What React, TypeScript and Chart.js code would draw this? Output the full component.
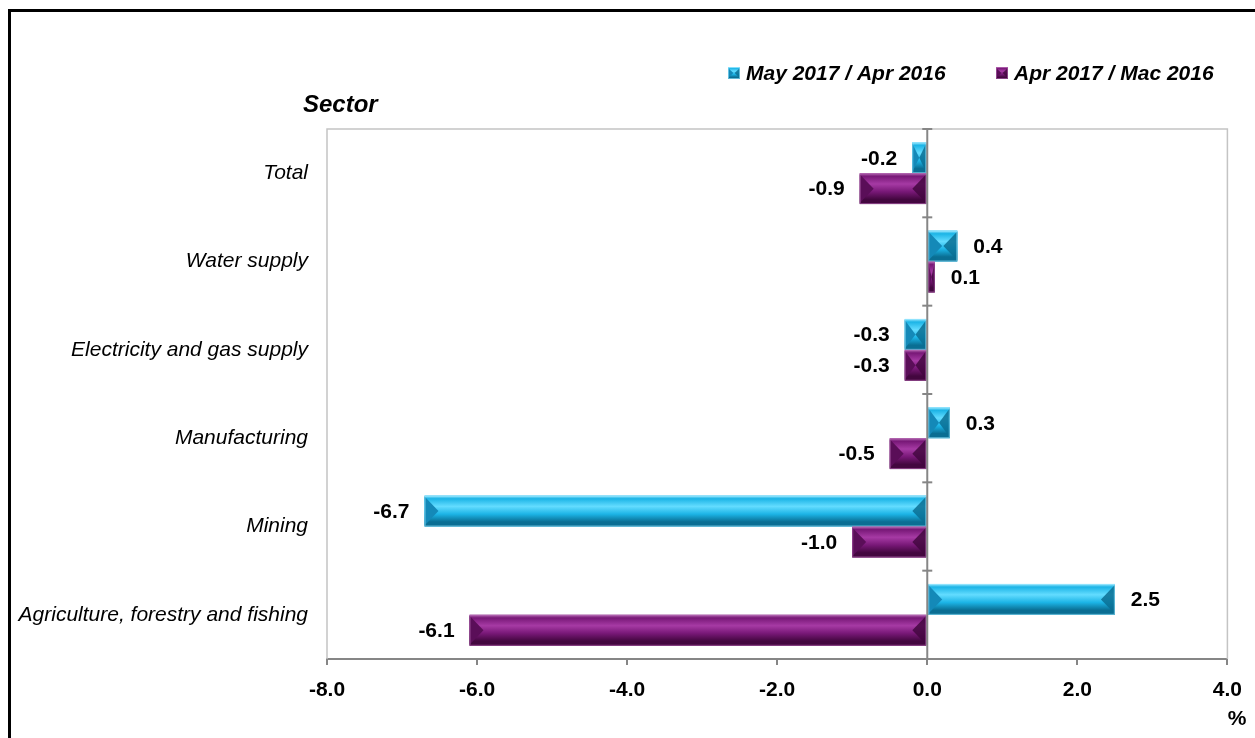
import React, { useEffect, useRef } from 'react';
import { Chart, registerables } from 'chart.js';

Chart.register(...registerables);

const categories = [
  'Total',
  'Water supply',
  'Electricity and gas supply',
  'Manufacturing',
  'Mining',
  'Agriculture, forestry and fishing',
];
const seriesNames = ['May 2017 / Apr 2016', 'Apr 2017 / Mac 2016'];
const seriesMay = [-0.2, 0.4, -0.3, 0.3, -6.7, 2.5];
const seriesApr = [-0.9, 0.1, -0.3, -0.5, -1.0, -6.1];
const xMin = -8;
const xMax = 4;
const xStep = 2;
const yAxisTitle = 'Sector';
const unitLabel = '%';

const FONT = 'Arial, "Liberation Sans", sans-serif';

const palettes = [
  { base: '#1cb4e6', light: '#63dcff', mid: '#1cb4e6', dark: '#0a6e93', end: '#1489b8', edge: '#9be8ff' },
  { base: '#7a1a78', light: '#a63aa4', mid: '#781877', dark: '#43073f', end: '#5a0e58', edge: '#b468b2' },
];

function drawBevelBar(ctx: CanvasRenderingContext2D, left: number, right: number, top: number, bottom: number, pal: any) {
  const w = right - left;
  const h = bottom - top;
  if (w <= 0 || h <= 0) return;
  const g = ctx.createLinearGradient(0, top, 0, bottom);
  g.addColorStop(0, pal.edge);
  g.addColorStop(0.1, pal.mid);
  g.addColorStop(0.35, pal.light);
  g.addColorStop(0.6, pal.mid);
  g.addColorStop(0.85, pal.dark);
  g.addColorStop(1, pal.dark);
  ctx.fillStyle = g;
  ctx.fillRect(left, top, w, h);
  const d = Math.min(h * 0.45, w / 2);
  const yc = top + h / 2;
  ctx.fillStyle = pal.end;
  ctx.beginPath();
  ctx.moveTo(left, top + 1);
  ctx.lineTo(left + d, yc);
  ctx.lineTo(left, bottom - 1);
  ctx.closePath();
  ctx.fill();
  ctx.fillStyle = pal.dark;
  ctx.globalAlpha = 0.85;
  ctx.beginPath();
  ctx.moveTo(right, top + 1);
  ctx.lineTo(right - d, yc);
  ctx.lineTo(right, bottom - 1);
  ctx.closePath();
  ctx.fill();
  ctx.globalAlpha = 0.6;
  ctx.strokeStyle = pal.edge;
  ctx.lineWidth = 1;
  ctx.strokeRect(left + 0.5, top + 0.5, w - 1, h - 1);
  ctx.globalAlpha = 1;
}

const decorPlugin = {
  id: 'decor',
  beforeDraw(chart: any) {
    const ctx = chart.ctx as CanvasRenderingContext2D;
    ctx.save();
    ctx.fillStyle = '#fff';
    ctx.fillRect(0, 0, chart.width, chart.height);
    ctx.fillStyle = '#000';
    ctx.fillRect(8, 9, 3, chart.height - 9);
    ctx.fillRect(8, 9, chart.width - 8, 3);
    ctx.restore();
  },
  beforeDatasetsDraw(chart: any) {
    const ctx = chart.ctx as CanvasRenderingContext2D;
    const a = chart.chartArea;
    ctx.save();
    ctx.strokeStyle = '#c4c4c4';
    ctx.lineWidth = 1.5;
    ctx.beginPath();
    ctx.moveTo(a.left, a.bottom);
    ctx.lineTo(a.left, a.top);
    ctx.lineTo(a.right, a.top);
    ctx.lineTo(a.right, a.bottom);
    ctx.stroke();
    ctx.restore();
  },
  afterDatasetsDraw(chart: any) {
    const ctx = chart.ctx as CanvasRenderingContext2D;
    const a = chart.chartArea;
    const xs = chart.scales.x;
    const ys = chart.scales.y;
    ctx.save();
    chart.data.datasets.forEach((ds: any, i: number) => {
      const meta = chart.getDatasetMeta(i);
      meta.data.forEach((el: any) => {
        const p = el.getProps(['x', 'y', 'base', 'height'], true);
        const left = Math.min(p.x, p.base);
        const right = Math.max(p.x, p.base);
        drawBevelBar(ctx, left, right, p.y - p.height / 2, p.y + p.height / 2, palettes[i]);
      });
    });
    const x0 = xs.getPixelForValue(0);
    ctx.strokeStyle = '#868686';
    ctx.lineWidth = 2;
    ctx.beginPath();
    ctx.moveTo(x0, a.top);
    ctx.lineTo(x0, a.bottom);
    ctx.stroke();
    for (let i = 0; i <= categories.length; i++) {
      const y = ys.getPixelForValue(i - 0.5);
      ctx.beginPath();
      ctx.moveTo(x0 - 5, y);
      ctx.lineTo(x0 + 5, y);
      ctx.stroke();
    }
    ctx.fillStyle = '#000';
    ctx.font = `bold 21px ${FONT}`;
    ctx.textBaseline = 'middle';
    chart.data.datasets.forEach((ds: any, i: number) => {
      const meta = chart.getDatasetMeta(i);
      meta.data.forEach((el: any, j: number) => {
        const v = ds.data[j] as number;
        const p = el.getProps(['x', 'y'], true);
        const txt = v.toFixed(1);
        if (v >= 0) {
          ctx.textAlign = 'left';
          ctx.fillText(txt, p.x + 16, p.y + 1);
        } else {
          ctx.textAlign = 'right';
          ctx.fillText(txt, p.x - 15, p.y + 1);
        }
      });
    });
    ctx.restore();
  },
  afterDraw(chart: any) {
    const ctx = chart.ctx as CanvasRenderingContext2D;
    ctx.save();
    ctx.fillStyle = '#000';
    ctx.textBaseline = 'middle';
    ctx.font = `italic bold 24px ${FONT}`;
    ctx.textAlign = 'left';
    ctx.fillText(yAxisTitle, 303, 105);
    ctx.font = `bold 21px ${FONT}`;
    ctx.textAlign = 'center';
    ctx.fillText(unitLabel, 1237, 719);
    ctx.font = `italic bold 21px ${FONT}`;
    ctx.textAlign = 'left';
    const starts = [728, 996];
    seriesNames.forEach((name, i) => {
      const mx = starts[i];
      drawBevelBar(ctx, mx, mx + 12, 67, 79, palettes[i]);
      ctx.fillStyle = '#000';
      ctx.fillText(name, mx + 18, 74);
    });
    ctx.restore();
  },
};

export default function App() {
  const ref = useRef<HTMLCanvasElement | null>(null);
  useEffect(() => {
    if (!ref.current) return;
    const chart = new Chart(ref.current, {
      type: 'bar',
      data: {
        labels: categories,
        datasets: [
          { label: seriesNames[0], data: seriesMay, backgroundColor: palettes[0].base, borderWidth: 0 },
          { label: seriesNames[1], data: seriesApr, backgroundColor: palettes[1].base, borderWidth: 0 },
        ],
      },
      options: {
        responsive: false,
        animation: false,
        indexAxis: 'y',
        layout: { padding: { top: 129, right: 27, left: 0, bottom: 0 } },
        datasets: { bar: { categoryPercentage: 0.7, barPercentage: 1 } },
        plugins: { legend: { display: false }, tooltip: { enabled: false } },
        scales: {
          x: {
            min: xMin,
            max: xMax,
            ticks: {
              stepSize: xStep,
              callback: (v: any) => Number(v).toFixed(1),
              font: { family: FONT, size: 21, weight: 'bold' },
              color: '#000',
              padding: 13,
            },
            grid: { drawOnChartArea: false, drawTicks: true, tickLength: 6, color: '#868686', lineWidth: 2 },
            border: { color: '#868686', width: 2 },
            afterFit: (s: any) => { s.height = 79; },
          },
          y: {
            ticks: {
              font: { family: FONT, size: 21, style: 'italic' },
              color: '#000',
              padding: 19,
            },
            grid: { display: false, drawTicks: false },
            border: { display: false },
            afterFit: (s: any) => { s.width = 327; },
          },
        },
      } as any,
      plugins: [decorPlugin],
    });
    return () => chart.destroy();
  }, []);
  return (
    <div style={{ position: 'fixed', left: 0, top: 0, width: 1255, height: 738 }}>
      <canvas ref={ref} width={1255} height={738} style={{ display: 'block' }} />
    </div>
  );
}
